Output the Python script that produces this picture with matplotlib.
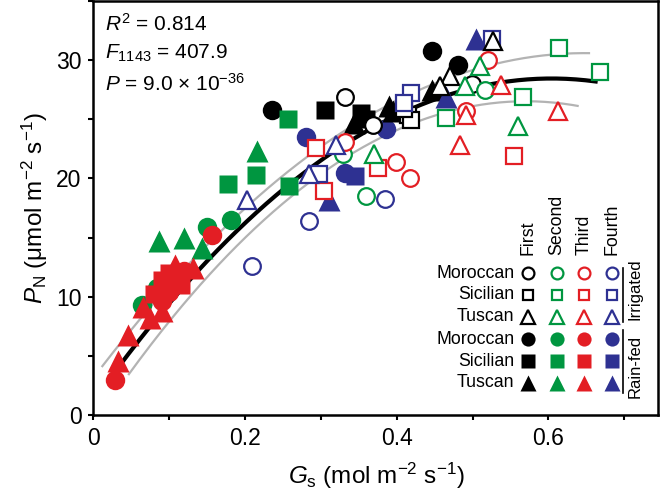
import numpy as np
import matplotlib
matplotlib.use('Agg')
import matplotlib.pyplot as plt
from matplotlib.ticker import MultipleLocator

plt.rcParams['font.family'] = ['Liberation Sans', 'DejaVu Sans']
plt.rcParams['mathtext.fontset'] = 'custom'
plt.rcParams['mathtext.rm'] = 'Liberation Sans'
plt.rcParams['mathtext.it'] = 'Liberation Sans:italic'
plt.rcParams['mathtext.bf'] = 'Liberation Sans:bold'

# Legend categories
stages = ['First', 'Second', 'Third', 'Fourth']
cultivars = ['Moroccan', 'Sicilian', 'Tuscan']
stage_colors = ['#000000', '#009640', '#e31e24', '#2e3192']
cultivar_markers = ['o', 's', '^']

# (Gs, PN) points, one list per stage (First, Second, Third, Fourth)
irr_moroccan = [
    [(0.332, 26.9), (0.369, 24.5), (0.499, 28.0)],
    [(0.329, 22.1), (0.359, 18.5), (0.516, 27.5)],
    [(0.332, 23.1), (0.399, 21.4), (0.417, 20.0), (0.521, 30.0), (0.492, 25.7)],
    [(0.284, 16.4), (0.209, 12.6), (0.384, 18.3)],
]
irr_sicilian = [
    [(0.415, 25.4), (0.419, 24.9), (0.410, 25.9)],
    [(0.614, 31.0), (0.668, 29.0), (0.567, 26.9), (0.465, 25.1)],
    [(0.293, 22.6), (0.304, 18.9), (0.375, 20.9), (0.555, 21.9)],
    [(0.298, 20.4), (0.419, 27.2), (0.410, 26.4), (0.525, 31.8)],
]
irr_tuscan = [
    [(0.527, 31.6), (0.470, 28.7), (0.457, 27.8)],
    [(0.510, 29.5), (0.560, 24.4), (0.370, 22.1), (0.490, 27.8)],
    [(0.538, 27.9), (0.613, 25.7), (0.483, 22.8), (0.492, 25.4)],
    [(0.203, 18.2), (0.284, 20.4), (0.320, 22.8)],
]
rain_moroccan = [
    [(0.236, 25.8), (0.446, 30.8), (0.481, 29.6)],
    [(0.084, 10.7), (0.064, 9.3), (0.150, 15.9), (0.182, 16.5)],
    [(0.028, 3.0), (0.156, 15.2), (0.090, 9.6), (0.100, 10.4), (0.120, 12.2)],
    [(0.280, 23.5), (0.332, 20.5), (0.386, 24.2)],
]
rain_sicilian = [
    [(0.306, 25.8), (0.353, 25.5), (0.360, 25.0)],
    [(0.178, 19.5), (0.214, 20.3), (0.258, 19.4), (0.257, 25.0)],
    [(0.090, 11.4), (0.100, 12.0), (0.080, 10.2), (0.115, 11.0)],
    [(0.345, 20.2)],
]
rain_tuscan = [
    [(0.344, 24.7), (0.390, 26.1), (0.395, 25.7), (0.446, 27.5)],
    [(0.216, 22.3), (0.087, 14.7), (0.119, 15.0), (0.143, 14.1)],
    [(0.033, 4.6), (0.046, 6.8), (0.132, 12.4), (0.108, 12.7),
     (0.108, 11.3), (0.075, 8.2), (0.090, 8.8), (0.066, 9.1)],
    [(0.505, 31.8), (0.465, 26.9), (0.311, 18.2)],
]

# Quadratic fit and its band (coefficients, highest power first)
fit_coef = [-74.8, 90.4, 1.135]
fit_range = (0.03, 0.665)
upper_coef = [-65.4, 84.76, 3.131]
upper_range = (0.011, 0.655)
lower_coef = [-84.2, 96.04, -0.861]
lower_range = (0.046, 0.64)

stats_lines = [r'$R^2$ = 0.814', r'$F_{1143}$ = 407.9',
               r'$P$ = 9.0 $\times$ 10$^{-36}$']

marker_sizes = {'o': 13.5, 's': 12.5, '^': 15}

fig = plt.figure(figsize=(6.61, 5.04), dpi=100)
ax = fig.add_axes([0.1412, 0.1766, 0.8548, 0.8214])

# band and fit line
for coef, rng, col, lw in [(upper_coef, upper_range, '#b3b3b3', 1.6),
                           (lower_coef, lower_range, '#b3b3b3', 1.6),
                           (fit_coef, fit_range, 'black', 3.0)]:
    xs = np.linspace(rng[0], rng[1], 200)
    ax.plot(xs, np.polyval(coef, xs), color=col, lw=lw, zorder=2,
            solid_capstyle='butt')

groups = [(rain_moroccan, 'o', True), (rain_sicilian, 's', True), (rain_tuscan, '^', True),
          (irr_moroccan, 'o', False), (irr_sicilian, 's', False), (irr_tuscan, '^', False)]
z = 3
for data, mk, filled in groups:
    for color, pts in zip(stage_colors, data):
        pts = np.array(pts)
        ms = marker_sizes[mk]
        if filled:
            ax.plot(pts[:, 0], pts[:, 1], ls='none', marker=mk, ms=ms + 0.5,
                    mfc=color, mec='none', zorder=z)
        else:
            ax.plot(pts[:, 0], pts[:, 1], ls='none', marker=mk, ms=ms - 1.5,
                    mfc='white', mec=color, mew=1.6, zorder=z)
        z += 0.1

ax.set_xlim(0, 0.745)
ax.set_ylim(0, 35)
ax.xaxis.set_minor_locator(MultipleLocator(0.1))
ax.yaxis.set_major_locator(MultipleLocator(10))
ax.yaxis.set_minor_locator(MultipleLocator(5))
ax.set_xticks([0, 0.2, 0.4, 0.6])
ax.set_xticklabels(['0', '0.2', '0.4', '0.6'])
ax.tick_params(which='both', direction='out', length=3.5, width=1.5,
               labelsize=16.5, pad=5)
ax.tick_params(axis='x', which='both', top=False)
ax.tick_params(axis='y', which='both', right=False)
for sp in ax.spines.values():
    sp.set_linewidth(1.8)

ax.set_xlabel(r'$G_\mathrm{s}$ (mol m$^{-2}$ s$^{-1}$)', fontsize=17.5, labelpad=8)
ax.set_ylabel(r'$P_\mathrm{N}$ ($\mathrm{\mu}$mol m$^{-2}$ s$^{-1}$)', fontsize=17.5, labelpad=4)

stats_y = [0.928, 0.861, 0.784]
for line, ty in zip(stats_lines, stats_y):
    ax.text(0.021, ty, line, transform=ax.transAxes,
            fontsize=15, va='baseline', ha='left')

# Custom legend
col_x = [0.770, 0.820, 0.869, 0.918]
row_y = [0.342, 0.290, 0.237, 0.183, 0.130, 0.078]
for j, (stage, color) in enumerate(zip(stages, stage_colors)):
    ax.text(col_x[j], 0.386, stage, rotation=90, ha='center', va='bottom',
            fontsize=12.8, transform=ax.transAxes)
for r in range(6):
    filled = r >= 3
    mk = cultivar_markers[r % 3]
    ax.text(0.745, row_y[r], cultivars[r % 3], ha='right', va='center',
            fontsize=12.8, transform=ax.transAxes)
    for j, color in enumerate(stage_colors):
        ms = marker_sizes[mk] * 0.72
        if filled:
            ax.plot(col_x[j], row_y[r], marker=mk, ms=ms + 0.5, mfc=color,
                    mec='none', transform=ax.transAxes, clip_on=False, zorder=10)
        else:
            ax.plot(col_x[j], row_y[r], marker=mk, ms=ms - 1.2, mfc='white',
                    mec=color, mew=1.6, transform=ax.transAxes, clip_on=False,
                    zorder=10)

ax.plot([0.937, 0.937], [0.225, 0.355], color='black', lw=1.2, transform=ax.transAxes)
ax.plot([0.937, 0.937], [0.053, 0.205], color='black', lw=1.2, transform=ax.transAxes)
ax.text(0.959, 0.305, 'Irrigated', rotation=90, ha='center', va='center',
        fontsize=12, transform=ax.transAxes)
ax.text(0.959, 0.118, 'Rain-fed', rotation=90, ha='center', va='center',
        fontsize=12, transform=ax.transAxes)

fig.savefig('out.png', dpi=100)
